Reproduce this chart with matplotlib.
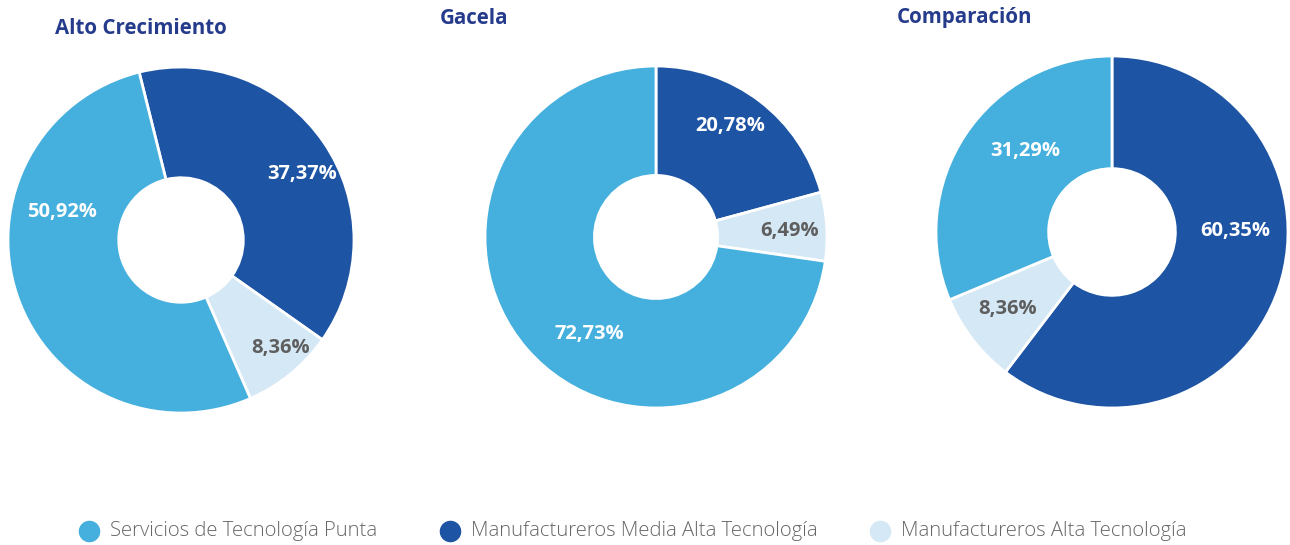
import numpy as np
import matplotlib
matplotlib.use("Agg")
import matplotlib.pyplot as plt
from matplotlib.lines import Line2D

plt.rcParams['font.family'] = ['Open Sans', 'DejaVu Sans']

# data (percentages as printed on the chart)
categories = ['Servicios de Tecnología Punta',
              'Manufactureros Media Alta Tecnología',
              'Manufactureros Alta Tecnología']
alto_crecimiento = [50.92, 37.37, 8.36]
gacela = [72.73, 20.78, 6.49]
comparacion = [31.29, 60.35, 8.36]
titles = ['Alto Crecimiento', 'Gacela', 'Comparación']

colors = ['#45AFDD', '#1D54A4', '#D5E8F5']
label_colors = ['white', 'white', '#5E5E5E']
title_color = '#253B8B'

W, H = 1290, 545
fig = plt.figure(figsize=(W / 100, H / 100), dpi=100)

# layout: donut center (px), radius (px), start angle, title pos,
# label (angle shift from wedge middle, radius fraction)
layout = [
    dict(cx=181, cy=240, r=173, start=104, tx=55, ty=28,
         lab=[(-33, 0.71), (-5, 0.80), (4, 0.84)]),
    dict(cx=656, cy=237, r=171, start=90, tx=440, ty=18,
         lab=[(14, 0.68), (4, 0.79), (0, 0.78)]),
    dict(cx=1112, cy=232, r=176, start=90, tx=897, ty=17,
         lab=[(-10, 0.68), (20, 0.70), (-2, 0.73)]),
]

order = [1, 2, 0]  # wedge drawing order, clockwise
pad = 1.03
for vals, title, lo in zip([alto_crecimiento, gacela, comparacion], titles, layout):
    size = 2 * lo['r'] * pad
    ax = fig.add_axes([(lo['cx'] - lo['r'] * pad) / W,
                       (H - lo['cy'] - lo['r'] * pad) / H,
                       size / W, size / H])
    v = [vals[i] for i in order]
    wedges, _ = ax.pie(v, colors=[colors[i] for i in order], startangle=lo['start'],
                       counterclock=False, radius=1,
                       wedgeprops=dict(width=0.64, edgecolor='white', linewidth=2))
    ax.set_xlim(-pad, pad)
    ax.set_ylim(-pad, pad)
    ax.set_aspect('equal')
    ax.axis('off')
    for w, i in zip(wedges, order):
        shift, rr = lo['lab'][i]
        th = np.deg2rad((w.theta1 + w.theta2) / 2 + shift)
        txt = f"{vals[i]:.2f}".replace('.', ',') + '%'
        ax.text(rr * np.cos(th), rr * np.sin(th) - 0.01, txt, ha='center', va='center',
                fontsize=14.5, fontweight='bold', color=label_colors[i])
    fig.text(lo['tx'] / W, 1 - lo['ty'] / H, title, ha='left', va='center',
             fontsize=14.8, fontweight='bold', color=title_color)

# legend, drawn item by item (uneven spacing in the original)
legend_x = [89, 450, 880]
legend_y = 1 - 531 / H
for x, c, name in zip(legend_x, colors, categories):
    fig.add_artist(Line2D([x / W], [legend_y], marker='o', linestyle='',
                          markersize=14.5, markerfacecolor=c, markeredgecolor=c,
                          transform=fig.transFigure))
    fig.text((x + 21) / W, legend_y, name, ha='left', va='center',
             fontsize=14.6, fontweight='light', color='#666666')

fig.savefig('out.png', dpi=100, facecolor='white')
